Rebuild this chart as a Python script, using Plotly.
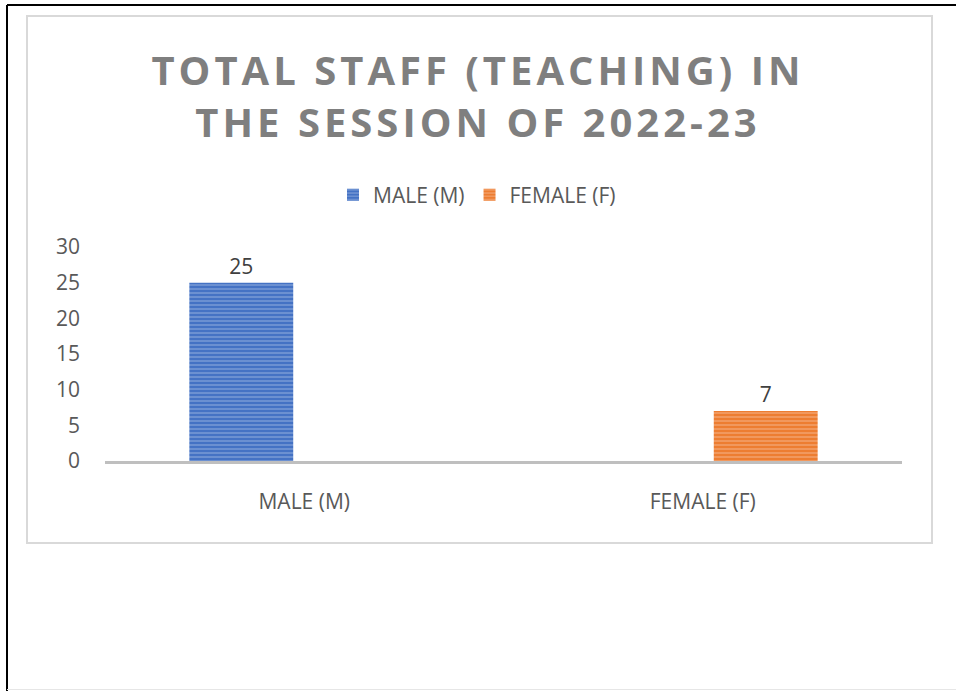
import plotly.graph_objects as go

categories = ["MALE (M)", "FEMALE (F)"]
series_names = ["MALE (M)", "FEMALE (F)"]
male_values = [25, None]
female_values = [None, 7]
y_ticks = [0, 5, 10, 15, 20, 25, 30]

W, H = 956, 691
L, R, T, B = 105, 54, 247, 230
pw, ph = W - L - R, H - T - B

def px(x):
    return (x - L) / pw

def py(y):
    return (H - B - y) / ph

FS = 21
TXT = "#595959"

fig = go.Figure()
fig.add_trace(go.Bar(
    x=categories, y=male_values, name=series_names[0],
    marker=dict(color="#4472C4", line=dict(width=0),
                pattern=dict(shape="-", fgcolor="#B4C7E7", size=4, solidity=0.35, fillmode="overlay")),
    text=[str(v) if v is not None else "" for v in male_values],
    textposition="outside", textfont=dict(size=FS, color="#404040", family="Open Sans"),
    cliponaxis=False,
))
fig.add_trace(go.Bar(
    x=categories, y=female_values, name=series_names[1],
    marker=dict(color="#ED7D31", line=dict(width=0),
                pattern=dict(shape="-", fgcolor="#F8CBAD", size=4, solidity=0.35, fillmode="overlay")),
    text=[str(v) if v is not None else "" for v in female_values],
    textposition="outside", textfont=dict(size=FS, color="#404040", family="Open Sans"),
    cliponaxis=False,
))

shapes = [
    # page frame
    dict(type="line", xref="paper", yref="paper", x0=px(7), x1=px(960), y0=py(5), y1=py(5),
         line=dict(color="black", width=2)),
    dict(type="line", xref="paper", yref="paper", x0=px(7), x1=px(7), y0=py(5), y1=py(695),
         line=dict(color="black", width=2)),
    dict(type="line", xref="paper", yref="paper", x0=px(7), x1=px(960), y0=py(689.5), y1=py(689.5),
         line=dict(color="#e6e6e6", width=1)),
    # chart border
    dict(type="rect", xref="paper", yref="paper", x0=px(27), x1=px(932), y0=py(16), y1=py(543),
         line=dict(color="#d9d9d9", width=2), layer="below"),
]

fig.update_layout(
    width=W, height=H,
    margin=dict(l=L, r=R, t=T, b=B),
    paper_bgcolor="white", plot_bgcolor="white",
    barmode="group", bargap=0.368, bargroupgap=0.175,
    font=dict(family="Open Sans", color=TXT, size=FS),
    title=dict(text="TOTAL STAFF (TEACHING) IN<br>THE SESSION OF 2022-23",
               x=0.5, xanchor="center", xref="container",
               y=1 - 85 / H, yanchor="middle", yref="container",
               font=dict(family="Open Sans", size=40, color="#7F7F7F", weight="bold")),
    showlegend=True,
    legend=dict(orientation="h", x=px(477), xanchor="center",
                y=py(195), yanchor="middle", font=dict(size=FS, color=TXT),
                itemwidth=30, traceorder="normal"),
    xaxis=dict(showline=True, linecolor="#BFBFBF", linewidth=3, showgrid=False,
               ticks="", tickfont=dict(size=FS, color=TXT), ticklabelstandoff=20),
    yaxis=dict(range=[0, 30], tickvals=y_ticks, showgrid=False, zeroline=False,
               showline=False, ticks="", tickfont=dict(size=FS, color=TXT),
               ticklabelstandoff=24),
    shapes=shapes,
)

post = """
document.body.style.margin = '0';
document.body.style.overflow = 'hidden';
function spaceTitle(){
  document.querySelectorAll('.gtitle').forEach(function(e){ e.style.letterSpacing = '4px'; });
}
spaceTitle();
var gd = document.getElementById('{plot_id}');
if (gd && gd.on) { gd.on('plotly_afterplot', spaceTitle); }
"""

fig.write_html("out.html", post_script=post, config={"displayModeBar": False})
